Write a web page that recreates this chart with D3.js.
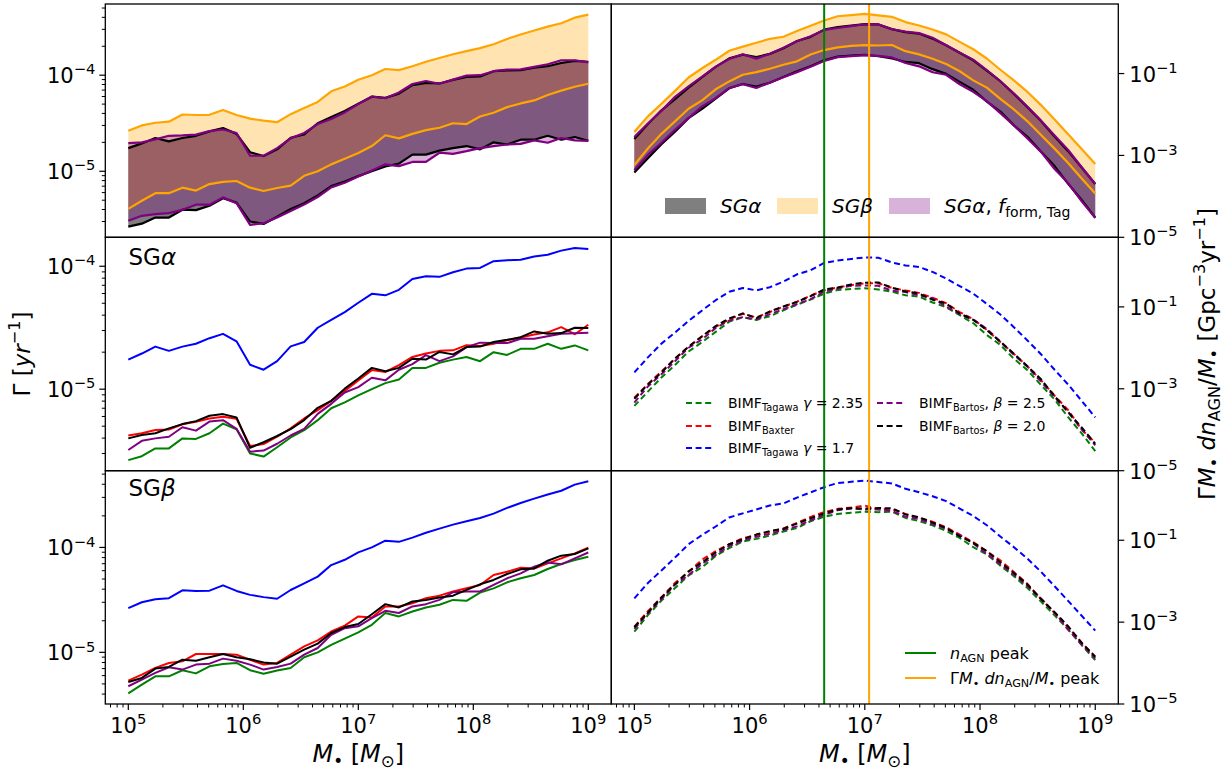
<!DOCTYPE html>
<html>
<head>
<meta charset="utf-8">
<script src="https://cdn.jsdelivr.net/npm/d3@7"></script>
<style>
  body { margin: 0; background: #fff; }
  svg { display: block; }
  text { font-family: "DejaVu Sans", sans-serif; fill: #000; }
</style>
</head>
<body>
<svg id="fig" width="1224" height="773"></svg>
<script>
// ---------------------------------------------------------------------------
// Data
// ---------------------------------------------------------------------------

// SMBH mass grid M• [M_sun]
const mass = [1.000e5, 1.311e5, 1.719e5, 2.254e5, 2.955e5, 3.874e5, 5.080e5, 6.661e5, 8.733e5,
  1.145e6, 1.501e6, 1.968e6, 2.581e6, 3.384e6, 4.437e6, 5.817e6, 7.627e6,
  1.000e7, 1.311e7, 1.719e7, 2.254e7, 2.955e7, 3.874e7, 5.080e7, 6.661e7, 8.733e7,
  1.145e8, 1.501e8, 1.968e8, 2.581e8, 3.384e8, 4.437e8, 5.817e8, 7.627e8, 1.000e9];

// Merger rate per AGN, Γ [yr^-1], SGα disc model, one array per BIMF
const sgAlphaTagawa235 = [2.65e-6, 2.85e-6, 3.3e-6, 3.3e-6, 3.98e-6, 3.94e-6, 4.38e-6, 5.25e-6, 4.72e-6,
  3.0e-6, 2.83e-6, 3.37e-6, 4.05e-6, 4.64e-6, 5.6e-6, 7.0e-6, 7.8e-6, 8.9e-6, 1.0e-5, 1.12e-5, 1.2e-5,
  1.49e-5, 1.49e-5, 1.64e-5, 1.74e-5, 1.83e-5, 1.69e-5, 2.0e-5, 1.9e-5, 2.13e-5, 2.13e-5, 2.34e-5,
  2.13e-5, 2.27e-5, 2.07e-5];
const sgAlphaBaxter = [4.2e-6, 4.38e-6, 4.66e-6, 4.7e-6, 5.18e-6, 5.43e-6, 5.78e-6, 5.97e-6, 5.74e-6,
  3.45e-6, 3.58e-6, 4.11e-6, 4.8e-6, 5.78e-6, 6.76e-6, 8.03e-6, 9.68e-6, 1.18e-5, 1.43e-5, 1.38e-5,
  1.57e-5, 1.83e-5, 1.95e-5, 2.05e-5, 2.07e-5, 2.28e-5, 2.25e-5, 2.34e-5, 2.5e-5, 2.63e-5, 2.79e-5,
  2.9e-5, 3.2e-5, 2.8e-5, 3.34e-5];
const sgAlphaTagawa17 = [1.74e-5, 1.95e-5, 2.22e-5, 2.05e-5, 2.22e-5, 2.34e-5, 2.6e-5, 2.82e-5, 2.45e-5,
  1.58e-5, 1.44e-5, 1.69e-5, 2.23e-5, 2.42e-5, 3.16e-5, 3.67e-5, 4.24e-5, 5.05e-5, 5.97e-5, 5.8e-5,
  6.43e-5, 7.89e-5, 8.3e-5, 8.2e-5, 8.94e-5, 9.57e-5, 9.7e-5, 1.1e-4, 1.12e-4, 1.13e-4, 1.2e-4,
  1.24e-4, 1.34e-4, 1.41e-4, 1.38e-4];
const sgAlphaBartos25 = [3.2e-6, 3.8e-6, 3.98e-6, 4.1e-6, 4.9e-6, 4.6e-6, 5.45e-6, 5.6e-6, 4.76e-6,
  3.1e-6, 3.17e-6, 3.6e-6, 4.2e-6, 4.76e-6, 6.3e-6, 7.6e-6, 9.4e-6, 1.04e-5, 1.24e-5, 1.18e-5,
  1.44e-5, 1.6e-5, 1.89e-5, 1.69e-5, 1.85e-5, 2.2e-5, 2.39e-5, 2.37e-5, 2.37e-5, 2.57e-5, 2.57e-5,
  2.69e-5, 2.82e-5, 2.85e-5, 2.88e-5];
const sgAlphaBartos20 = [3.98e-6, 4.24e-6, 4.38e-6, 4.8e-6, 5.2e-6, 5.5e-6, 6.08e-6, 6.27e-6, 5.89e-6,
  3.34e-6, 3.7e-6, 4.16e-6, 4.74e-6, 5.61e-6, 7.06e-6, 8.04e-6, 1.01e-5, 1.22e-5, 1.49e-5, 1.4e-5,
  1.49e-5, 1.77e-5, 1.74e-5, 2.01e-5, 1.92e-5, 2.2e-5, 2.22e-5, 2.42e-5, 2.52e-5, 2.65e-5, 2.95e-5,
  2.82e-5, 2.86e-5, 3.16e-5, 3.14e-5];

// Same, SGβ disc model
const sgBetaTagawa235 = [4.06e-6, 4.93e-6, 5.91e-6, 5.91e-6, 6.75e-6, 6.3e-6, 7.36e-6, 7.75e-6, 7.92e-6,
  6.75e-6, 6.24e-6, 6.7e-6, 7.1e-6, 8.97e-6, 1.0e-5, 1.18e-5, 1.35e-5, 1.55e-5, 1.83e-5, 2.37e-5,
  2.2e-5, 2.45e-5, 2.68e-5, 2.84e-5, 3.16e-5, 3.1e-5, 3.71e-5, 4.07e-5, 4.65e-5, 5.08e-5, 5.46e-5,
  6.23e-5, 6.95e-5, 7.58e-5, 8.15e-5];
const sgBetaBaxter = [5.38e-6, 6.14e-6, 7.1e-6, 7.92e-6, 8.22e-6, 9.64e-6, 9.64e-6, 9.64e-6, 9.5e-6,
  8.5e-6, 7.64e-6, 7.92e-6, 9.5e-6, 1.14e-5, 1.3e-5, 1.58e-5, 1.8e-5, 2.2e-5, 2.15e-5, 2.74e-5,
  2.74e-5, 2.94e-5, 3.28e-5, 3.47e-5, 3.8e-5, 4.08e-5, 4.39e-5, 5.46e-5, 5.87e-5, 6.41e-5, 6.3e-5,
  7.05e-5, 7.86e-5, 8.77e-5, 9.93e-5];
const sgBetaTagawa17 = [2.64e-5, 3.0e-5, 3.2e-5, 3.28e-5, 3.9e-5, 3.85e-5, 3.87e-5, 4.35e-5, 3.85e-5,
  3.53e-5, 3.36e-5, 3.24e-5, 3.93e-5, 4.55e-5, 5.27e-5, 6.79e-5, 7.63e-5, 8.97e-5, 1.0e-4, 1.16e-4,
  1.13e-4, 1.24e-4, 1.38e-4, 1.51e-4, 1.65e-4, 1.78e-4, 1.91e-4, 2.1e-4, 2.38e-4, 2.65e-4, 2.92e-4,
  3.2e-4, 3.47e-4, 3.97e-4, 4.27e-4];
const sgBetaBartos25 = [4.75e-6, 5.5e-6, 6.37e-6, 7.21e-6, 6.85e-6, 7.64e-6, 7.8e-6, 8.71e-6, 8.3e-6,
  7.64e-6, 6.85e-6, 7.26e-6, 7.8e-6, 9.5e-6, 1.1e-5, 1.47e-5, 1.7e-5, 1.77e-5, 2.12e-5, 2.49e-5,
  2.37e-5, 2.74e-5, 2.88e-5, 3.16e-5, 3.74e-5, 3.8e-5, 3.8e-5, 4.39e-5, 5.08e-5, 5.66e-5, 6.55e-5,
  7.2e-5, 6.9e-5, 7.86e-5, 8.95e-5];
const sgBetaBartos20 = [5.22e-6, 5.7e-6, 7.0e-6, 7.26e-6, 8.5e-6, 8.3e-6, 8.97e-6, 9.64e-6, 8.97e-6,
  8.6e-6, 8.0e-6, 7.8e-6, 9.1e-6, 1.06e-5, 1.21e-5, 1.53e-5, 1.74e-5, 1.86e-5, 2.31e-5, 2.88e-5,
  2.68e-5, 3.05e-5, 3.16e-5, 3.33e-5, 3.47e-5, 3.94e-5, 4.45e-5, 4.9e-5, 5.58e-5, 6.18e-5, 6.3e-5,
  7.47e-5, 8.35e-5, 8.65e-5, 9.8e-5];

// SGα with the Tagawa formation fraction: lower / upper envelope over BIMFs
const sgAlphaTagLow = [3.05e-6, 3.44e-6, 3.58e-6, 3.67e-6, 3.97e-6, 4.49e-6, 4.49e-6, 5.35e-6, 4.66e-6,
  2.77e-6, 2.88e-6, 3.3e-6, 3.87e-6, 4.5e-6, 5.4e-6, 6.8e-6, 7.6e-6, 8.8e-6, 1.02e-5, 1.18e-5,
  1.13e-5, 1.25e-5, 1.25e-5, 1.56e-5, 1.52e-5, 1.62e-5, 1.74e-5, 1.83e-5, 1.9e-5, 1.93e-5, 2.1e-5,
  1.98e-5, 2.22e-5, 2.1e-5, 2.07e-5];
const sgAlphaTagHigh = [1.96e-5, 2.0e-5, 2.15e-5, 2.34e-5, 2.36e-5, 2.41e-5, 2.62e-5, 2.72e-5, 2.5e-5,
  1.45e-5, 1.45e-5, 1.74e-5, 2.2e-5, 2.5e-5, 3.1e-5, 3.5e-5, 4.1e-5, 5.0e-5, 6.0e-5, 5.75e-5,
  6.6e-5, 8.1e-5, 8.7e-5, 8.15e-5, 9.0e-5, 9.9e-5, 1.0e-4, 1.1e-4, 1.14e-4, 1.15e-4, 1.22e-4,
  1.3e-4, 1.43e-4, 1.43e-4, 1.36e-4];

// AGN mass function M• dn_AGN/dM• [Gpc^-3] on the same mass grid
const agnMassFunction = [144, 300, 570, 1150, 2050, 3500, 5600, 8300, 11800, 16000, 21000, 24500,
  28000, 32500, 37500, 37000, 35000, 32000, 26500, 21000, 16000, 12000, 8600, 6000, 3600, 2200,
  1220, 590, 285, 134, 58, 23.5, 9.5, 3.6, 1.45];

// Peak positions marked in the right-hand panels [M_sun]
const nAgnPeakMass = 4.44e6;
const weightedRatePeakMass = 1.09e7;

// Axis tick exponents
const massTickExps = [5, 6, 7, 8, 9];
const weightedTickExps = [-5, -3, -1];
const weightedRange = [1e-5, 5];

// Series colours, in plotting order (Tagawa 2.35, Baxter, Tagawa 1.7, Bartos 2.5, Bartos 2.0)
const bimfColors = ["#008000", "#ff0000", "#0000ff", "#800080", "#000000"];

// ---------------------------------------------------------------------------
// Helpers
// ---------------------------------------------------------------------------
const svg = d3.select("#fig");
svg.append("rect").attr("width", 1224).attr("height", 773).attr("fill", "#fff");

// text with italic / sub / superscript runs
function rich(parent, parts, fs) {
  const t = parent.append("text").attr("font-size", fs);
  let shift = 0;
  parts.forEach(p => {
    const o = typeof p === "string" ? { t: p } : p;
    let target = 0, size = fs;
    if (o.sup) { target = -0.42 * fs; size = 0.7 * fs; }
    if (o.sub) { target = 0.2 * fs; size = 0.7 * fs; }
    const ts = t.append("tspan").text(o.t).attr("font-size", size);
    if (target - shift !== 0) ts.attr("dy", target - shift);
    shift = target;
    if (o.it) ts.attr("font-style", "italic");
  });
  return t;
}
const pow10 = e => ["10", { t: (e < 0 ? "\u2212" : "") + Math.abs(e), sup: true }];
const massSymbol = [{ t: "M", it: true }, { t: "\u2022", sub: true }];

function padLog(vals) {
  const l = vals.map(Math.log10);
  const lo = d3.min(l), hi = d3.max(l), p = (hi - lo) * 0.05;
  return [Math.pow(10, lo - p), Math.pow(10, hi + p)];
}

const sgAlpha = [sgAlphaTagawa235, sgAlphaBaxter, sgAlphaTagawa17, sgAlphaBartos25, sgAlphaBartos20];
const sgBeta = [sgBetaTagawa235, sgBetaBaxter, sgBetaTagawa17, sgBetaBartos25, sgBetaBartos20];
const envelope = (set, f) => mass.map((_, i) => f(set.map(s => s[i])));
const sgAlphaLow = envelope(sgAlpha, d3.min), sgAlphaHigh = envelope(sgAlpha, d3.max);
const sgBetaLow = envelope(sgBeta, d3.min), sgBetaHigh = envelope(sgBeta, d3.max);
const weighted = s => s.map((v, i) => v * agnMassFunction[i]);

// ---------------------------------------------------------------------------
// Layout
// ---------------------------------------------------------------------------
const cols = [[105.3, 611.3], [611.3, 1118.3]];
const rows = [[4, 237.3], [237.3, 470.7], [470.7, 704]];
const massDomain = [1e5 / Math.pow(10, 0.2), 1e9 * Math.pow(10, 0.2)];

const leftDomains = [
  padLog([].concat(...sgAlpha, ...sgBeta, sgAlphaTagLow, sgAlphaTagHigh)),
  padLog([].concat(...sgAlpha)),
  padLog([].concat(...sgBeta))
];

function makePanel(r, c) {
  const [x0, x1] = cols[c], [y0, y1] = rows[r];
  const x = d3.scaleLog().domain(massDomain).range([x0, x1]);
  const y = d3.scaleLog().domain(c === 0 ? leftDomains[r] : weightedRange).range([y1, y0]);
  const id = `clip${r}${c}`;
  svg.append("clipPath").attr("id", id).append("rect")
    .attr("x", x0).attr("y", y0).attr("width", x1 - x0).attr("height", y1 - y0);
  const g = svg.append("g").attr("clip-path", `url(#${id})`);
  return { x, y, g, x0, x1, y0, y1, r, c };
}

const panels = [];
for (let r = 0; r < 3; r++) for (let c = 0; c < 2; c++) panels.push(makePanel(r, c));
const P = (r, c) => panels[r * 2 + c];

// ---------------------------------------------------------------------------
// Marks
// ---------------------------------------------------------------------------
const DASH = "6,3.6";
function lineGen(p) {
  return d3.line().x((d, i) => p.x(mass[i])).y(d => p.y(d));
}
function areaGen(p) {
  return d3.area().x((d, i) => p.x(mass[i])).y0(d => p.y(d[0])).y1(d => p.y(d[1]));
}
const zip = (a, b) => a.map((v, i) => [v, b[i]]);

// Top row: bands for the disc models
function drawBands(p, tf) {
  const area = areaGen(p), line = lineGen(p);
  const bands = [
    { lo: sgAlphaLow, hi: sgAlphaHigh, fill: "#000000", op: 0.5, stroke: "#000000" },
    { lo: sgBetaLow, hi: sgBetaHigh, fill: "#ffa500", op: 0.3, stroke: "#ffa500" },
    { lo: sgAlphaTagLow, hi: sgAlphaTagHigh, fill: "#800080", op: 0.3, stroke: "#800080" }
  ];
  bands.forEach(b => {
    p.g.append("path").attr("d", area(zip(tf(b.lo), tf(b.hi))))
      .attr("fill", b.fill).attr("fill-opacity", b.op).attr("stroke", "none");
  });
  bands.forEach(b => {
    [b.lo, b.hi].forEach(s => {
      p.g.append("path").attr("d", line(tf(s))).attr("fill", "none")
        .attr("stroke", b.stroke).attr("stroke-width", 2.2).attr("stroke-linejoin", "round");
    });
  });
}
drawBands(P(0, 0), s => s);
drawBands(P(0, 1), weighted);

// Middle / bottom rows: one curve per BIMF
function drawSeries(p, set, tf, dashed) {
  const line = lineGen(p);
  set.forEach((s, k) => {
    const path = p.g.append("path").attr("d", line(tf(s))).attr("fill", "none")
      .attr("stroke", bimfColors[k]).attr("stroke-width", 2).attr("stroke-linejoin", "round");
    if (dashed) path.attr("stroke-dasharray", DASH);
  });
}
drawSeries(P(1, 0), sgAlpha, s => s, false);
drawSeries(P(1, 1), sgAlpha, weighted, true);
drawSeries(P(2, 0), sgBeta, s => s, false);
drawSeries(P(2, 1), sgBeta, weighted, true);

// Peak markers in the right column
[0, 1, 2].forEach(r => {
  const p = P(r, 1);
  [[nAgnPeakMass, "#008000"], [weightedRatePeakMass, "#ffa500"]].forEach(([m, col]) => {
    p.g.append("line").attr("x1", p.x(m)).attr("x2", p.x(m)).attr("y1", p.y0).attr("y2", p.y1)
      .attr("stroke", col).attr("stroke-width", 2);
  });
});

// ---------------------------------------------------------------------------
// Axes
// ---------------------------------------------------------------------------
const axes = svg.append("g");
const TICK = 6, MINOR = 3.5;

function minorLogValues(domain) {
  const [a, b] = domain.map(Math.log10), out = [];
  for (let e = Math.floor(a); e <= Math.ceil(b); e++)
    for (let k = 2; k < 10; k++) {
      const v = k * Math.pow(10, e), l = Math.log10(v);
      if (l >= a && l <= b) out.push(v);
    }
  return out;
}
function majorLogExps(domain) {
  const [a, b] = domain.map(Math.log10), out = [];
  for (let e = Math.ceil(a - 1e-9); e <= Math.floor(b + 1e-9); e++) out.push(e);
  return out;
}

panels.forEach(p => {
  // left-column y axis on the left side, with minor ticks
  if (p.c === 0) {
    const dom = p.y.domain();
    minorLogValues(dom).forEach(v => {
      axes.append("line").attr("x1", p.x0 - MINOR).attr("x2", p.x0)
        .attr("y1", p.y(v)).attr("y2", p.y(v)).attr("stroke", "#000").attr("stroke-width", 1);
    });
    majorLogExps(dom).forEach(e => {
      const yy = p.y(Math.pow(10, e));
      axes.append("line").attr("x1", p.x0 - TICK).attr("x2", p.x0)
        .attr("y1", yy).attr("y2", yy).attr("stroke", "#000").attr("stroke-width", 1.2);
      rich(axes, pow10(e), 21).attr("x", p.x0 - TICK - 4).attr("y", yy + 8)
        .attr("text-anchor", "end");
    });
  } else {
    weightedTickExps.forEach(e => {
      const yy = p.y(Math.pow(10, e));
      axes.append("line").attr("x1", p.x1).attr("x2", p.x1 + TICK)
        .attr("y1", yy).attr("y2", yy).attr("stroke", "#000").attr("stroke-width", 1.2);
      rich(axes, pow10(e), 21).attr("x", p.x1 + TICK + 5).attr("y", yy + 8);
    });
  }
  // bottom row x axis
  if (p.r === 2) {
    minorLogValues(massDomain).forEach(v => {
      axes.append("line").attr("x1", p.x(v)).attr("x2", p.x(v))
        .attr("y1", p.y1).attr("y2", p.y1 + MINOR).attr("stroke", "#000").attr("stroke-width", 1);
    });
    massTickExps.forEach(e => {
      const xx = p.x(Math.pow(10, e));
      axes.append("line").attr("x1", xx).attr("x2", xx)
        .attr("y1", p.y1).attr("y2", p.y1 + TICK).attr("stroke", "#000").attr("stroke-width", 1.2);
      rich(axes, pow10(e), 21).attr("x", xx).attr("y", 733).attr("text-anchor", "middle");
    });
  }
  // frame
  axes.append("rect").attr("x", p.x0).attr("y", p.y0).attr("width", p.x1 - p.x0)
    .attr("height", p.y1 - p.y0).attr("fill", "none").attr("stroke", "#000").attr("stroke-width", 1.3);
});

// ---------------------------------------------------------------------------
// Labels and annotations
// ---------------------------------------------------------------------------
const massLabel = [...massSymbol, " [", { t: "M", it: true }, { t: "\u2299", sub: true }, "]"];
[0, 1].forEach(c => {
  rich(svg, massLabel, 24).attr("x", (cols[c][0] + cols[c][1]) / 2).attr("y", 762)
    .attr("text-anchor", "middle");
});

rich(svg, ["\u0393 [", { t: "yr", it: true }, { t: "\u22121", sup: true }, "]"], 23)
  .attr("text-anchor", "middle").attr("transform", "translate(30,354) rotate(-90)");

rich(svg, ["\u0393", ...massSymbol, " ", { t: "dn", it: true }, { t: "AGN", sub: true }, "/",
  ...massSymbol, " [Gpc", { t: "\u22123", sup: true }, "yr", { t: "\u22121", sup: true }, "]"], 23)
  .attr("text-anchor", "middle").attr("transform", "translate(1215,354) rotate(-90)");

rich(svg, ["SG", { t: "\u03b1", it: true }], 23).attr("x", 128.5).attr("y", 265);
rich(svg, ["SG", { t: "\u03b2", it: true }], 23).attr("x", 128.5).attr("y", 496);

// ---------------------------------------------------------------------------
// Legends
// ---------------------------------------------------------------------------
const legend = svg.append("g");

// disc-model bands (top right)
const bandLegend = [
  { fill: "#000000", op: 0.5, x: 665, label: [{ t: "SG\u03b1", it: true }] },
  { fill: "#ffa500", op: 0.3, x: 777, label: [{ t: "SG\u03b2", it: true }] },
  { fill: "#800080", op: 0.3, x: 889, label: [{ t: "SG\u03b1", it: true }, ", ", { t: "f", it: true }, { t: "form, Tag", sub: true }] }
];
bandLegend.forEach(d => {
  legend.append("rect").attr("x", d.x).attr("y", 198).attr("width", 41).attr("height", 16)
    .attr("fill", d.fill).attr("fill-opacity", d.op);
  rich(legend, d.label, 20).attr("x", d.x + 55).attr("y", 213);
});

// BIMF curves (middle right)
const bimfLegend = [
  { k: 0, col: 0, row: 0, label: ["BIMF", { t: "Tagawa", sub: true }, " ", { t: "\u03b3", it: true }, " = 2.35"] },
  { k: 1, col: 0, row: 1, label: ["BIMF", { t: "Baxter", sub: true }] },
  { k: 2, col: 0, row: 2, label: ["BIMF", { t: "Tagawa", sub: true }, " ", { t: "\u03b3", it: true }, " = 1.7"] },
  { k: 3, col: 1, row: 0, label: ["BIMF", { t: "Bartos", sub: true }, ", ", { t: "\u03b2", it: true }, " = 2.5"] },
  { k: 4, col: 1, row: 1, label: ["BIMF", { t: "Bartos", sub: true }, ", ", { t: "\u03b2", it: true }, " = 2.0"] }
];
const bimfColX = [686, 877], bimfRowY = [403, 426, 448];
bimfLegend.forEach(d => {
  const hx = bimfColX[d.col], hy = bimfRowY[d.row];
  legend.append("line").attr("x1", hx).attr("x2", hx + 28).attr("y1", hy).attr("y2", hy)
    .attr("stroke", bimfColors[d.k]).attr("stroke-width", 2).attr("stroke-dasharray", DASH);
  rich(legend, d.label, 14).attr("x", hx + 42).attr("y", hy + 5);
});

// peak markers (bottom right)
const peakLegend = [
  { col: "#008000", y: 653, label: [{ t: "n", it: true }, { t: "AGN", sub: true }, " peak"] },
  { col: "#ffa500", y: 678, label: ["\u0393", ...massSymbol, " ", { t: "dn", it: true }, { t: "AGN", sub: true }, "/", ...massSymbol, " peak"] }
];
peakLegend.forEach(d => {
  legend.append("line").attr("x1", 905).attr("x2", 936).attr("y1", d.y).attr("y2", d.y)
    .attr("stroke", d.col).attr("stroke-width", 2);
  rich(legend, d.label, 16).attr("x", 950).attr("y", d.y + 6);
});
</script>
</body>
</html>
